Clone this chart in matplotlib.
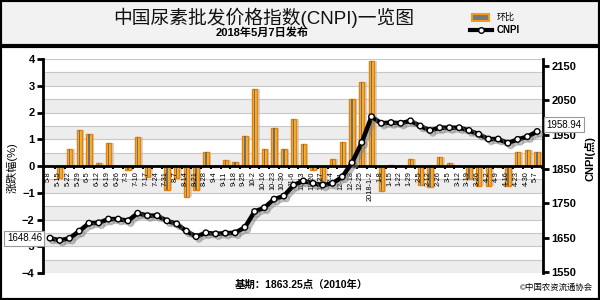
import numpy as np
import matplotlib
matplotlib.use("Agg")
import matplotlib.pyplot as plt
import matplotlib.patheffects as pe
from matplotlib.patches import Rectangle
from matplotlib.lines import Line2D
import matplotlib.transforms as mtrans

plt.rcParams['font.family'] = ['Liberation Sans', 'Noto Sans CJK SC', 'DejaVu Sans']

labels = ['5-8', '5-15', '5-22', '5-29', '6-5', '6-12', '6-19', '6-26', '7-3', '7-10',
          '7-17', '7-24', '7-31', '8-7', '8-14', '8-21', '8-28', '9-4', '9-11', '9-18',
          '9-25', '10-2', '10-16', '10-23', '10-30', '11-6', '11-13', '11-20', '11-27', '12-4',
          '12-11', '12-18', '12-25', '2018-1-2', '1-8', '1-15', '1-22', '1-29', '2-5', '2-12',
          '2-26', '3-5', '3-12', '3-19', '3-26', '4-2', '4-9', '4-16', '4-23', '4-30', '5-7']

# 环比 (%)
pct = [0, -0.45, 0.62, 1.33, 1.18, 0.1, 0.85, 0, -0.15, 1.07,
       -0.4, 0, -0.9, -0.45, -1.15, -0.9, 0.51, -0.05, 0.22, 0.14,
       1.12, 2.87, 0.64, 1.42, 0.64, 1.76, 0.82, -0.15, -0.55, 0.28,
       0.88, 2.49, 3.13, 3.92, -0.95, 0.05, 0, 0.28, -0.7, -0.8,
       0.35, 0.1, 0, -0.5, -0.75, -0.75, -0.05, -0.75, 0.51, 0.6, 0.51]

# CNPI index
cnpi = [1648.46, 1642, 1648, 1669, 1692, 1693, 1704, 1704, 1699, 1721,
        1714, 1714, 1699, 1690, 1669, 1653, 1664, 1661, 1663, 1664,
        1680, 1726, 1737, 1762, 1771, 1803, 1815, 1808, 1803, 1808,
        1827, 1868, 1927, 2002, 1983, 1985, 1983, 1990, 1975, 1962,
        1970, 1970, 1970, 1962, 1951, 1937, 1937, 1925, 1936, 1944, 1958.94]

x = np.arange(len(labels))

fig = plt.figure(figsize=(6, 3), dpi=100)

# header band and frame
fig.patches.append(Rectangle((0, 1 - 46 / 300), 1, 46 / 300, transform=fig.transFigure,
                             facecolor='#F2F2F2', edgecolor='none', zorder=0))
fig.lines.append(Line2D([0, 1], [1 - 46 / 300, 1 - 46 / 300], transform=fig.transFigure,
                        color='black', lw=3))
fig.patches.append(Rectangle((0, 0), 1, 1, transform=fig.transFigure, fill=False,
                             edgecolor='black', lw=3))

fig.text(0.44, 0.942, '中国尿素批发价格指数(CNPI)一览图', ha='center', va='center',
         fontsize=13.5, color='#111111')
fig.text(0.437, 0.89, '2018年5月7日发布', ha='center', va='center', fontsize=8,
         fontweight='bold')

# legend
fig.patches.append(Rectangle((472 / 600, 1 - 21 / 300), 17 / 600, 7 / 300,
                             transform=fig.transFigure, facecolor='#777777',
                             edgecolor='#F39A1E', lw=1.5))
fig.text(497 / 600, 1 - 17 / 300, '环比', ha='left', va='center', fontsize=6.5)
fig.lines.append(Line2D([470 / 600, 492 / 600], [1 - 30 / 300, 1 - 30 / 300],
                        transform=fig.transFigure, color='black', lw=3))
fig.lines.append(Line2D([481 / 600], [1 - 30 / 300], transform=fig.transFigure,
                        marker='o', ms=4, mfc='white', mec='black', mew=1))
fig.text(497 / 600, 1 - 30 / 300, 'CNPI', ha='left', va='center', fontsize=7,
         fontweight='bold')

ax = fig.add_axes([43 / 600, 27 / 300, 500 / 600, 214 / 300])
ax.set_xlim(-0.72, 50.6)
ax.set_ylim(-4, 4)

for k in range(-4, 4):
    ax.axhspan(k, k + 0.5, color='#EDEDED', zorder=0, lw=0)
for v in np.arange(-4, 4.01, 0.5):
    ax.axhline(v, color='#C8C8C8', lw=0.8, zorder=0.5)

# bars with shadow and dark centre stripe
ax.bar(x + 0.25, pct, width=0.55, color='#BBBBBB', alpha=0.6, zorder=2, lw=0)
ax.bar(x, pct, width=0.55, color='#F7B02A', edgecolor='#E8800C', lw=1, zorder=3)
ax.bar(x, pct, width=0.14, color='#6E6E6E', lw=0, zorder=4)

ax.axhline(0, color='black', lw=2, zorder=5)
ax.vlines(x + 0.5, -0.12, 0, color='black', lw=1.5, zorder=5)
for i, lab in enumerate(labels):
    ax.text(x[i] - 0.15, -0.2, lab, rotation=90, ha='center', va='top', fontsize=5.3,
            zorder=6)

ax.set_xticks([])
ax.set_yticks(range(-4, 5))
ax.tick_params(axis='y', direction='out', length=4, width=2, labelsize=8, pad=2)
for t in ax.get_yticklabels():
    t.set_fontweight('bold')
for s in ['top', 'bottom', 'right']:
    ax.spines[s].set_visible(False)
ax.spines['left'].set_linewidth(2)

ax2 = ax.twinx()
ax2.set_ylim(1547, 2170)
ax2.plot(x, cnpi, color='black', lw=3.2, marker='o', ms=4, mfc='white', mec='black',
         mew=1, zorder=5,
         path_effects=[pe.SimpleLineShadow(offset=(2, -2), shadow_color='gray', alpha=0.5),
                       pe.Normal()])
ax2.set_yticks(range(1550, 2151, 100))
ax2.tick_params(axis='y', direction='out', length=4, width=2, labelsize=8, pad=2)
for t in ax2.get_yticklabels():
    t.set_fontweight('bold')
for s in ['top', 'bottom', 'left']:
    ax2.spines[s].set_visible(False)
ax2.spines['right'].set_linewidth(2)

trans = mtrans.blended_transform_factory(ax2.transAxes, ax2.transData)
box = dict(boxstyle='square,pad=0.25', facecolor='white', edgecolor='#999999', lw=0.8)
ax2.text(-0.002, cnpi[0], '%.2f' % cnpi[0], transform=trans, ha='right', va='center',
         fontsize=7, bbox=box, zorder=10)
ax2.text(1.006, cnpi[-1] + 20, '%.2f' % cnpi[-1], transform=trans, ha='left',
         va='center', fontsize=7, bbox=box, zorder=10, clip_on=False)

fig.text(12 / 600, 0.44, '涨跌幅(%)', rotation=90, ha='center', va='center', fontsize=8)
fig.text(590 / 600, 0.47, 'CNPI(点)', rotation=90, ha='center', va='center', fontsize=8,
         fontweight='bold')

fig.text(0.503, 0.052, '基期：1863.25点（2010年）', ha='center', va='center',
         fontsize=7.5, fontweight='bold')
fig.text(0.988, 0.04, '©中国农资流通协会', ha='right', va='center', fontsize=6)

fig.savefig('out.png', dpi=100)
